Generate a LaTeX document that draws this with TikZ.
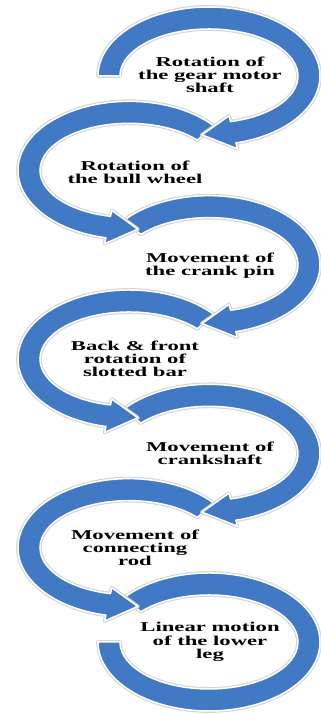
\documentclass[tikz,border=0pt]{standalone}
\usepackage{fontspec}
\setmainfont{Liberation Serif}
\usepackage{tikz}
\usetikzlibrary{calc}

\definecolor{ringblue}{RGB}{66,121,196}

\begin{document}
\begin{tikzpicture}[x=1pt,y=1pt]
    \newcommand{\ringstep}[0]{ 94.33pt }
    \tikzstyle{band} = [fill=ringblue,draw=white,line width=1.5pt,line join=round,
      preaction={draw=black!16,line width=3.8pt,line join=round}]
    \tikzstyle{steptext} = [
      align=center,
      inner sep=0pt,
      xscale=1.68,
      font=\fontsize{13.5}{13.3}\selectfont\bfseries,
    ]
    % ring: centre, start angle, end of band, tip of the head
    \newcommand{\ringarrow}[4]{%
      \filldraw[band] ([shift={(#2:111pt and 69pt)}]#1)
        arc[start angle=#2,end angle=#3,x radius=111pt,y radius=69pt]
        --([shift={(#3:117pt and 75pt)}]#1)
        --([shift={(#4:101pt and 59pt)}]#1)
        --([shift={(#3:83pt and 41pt)}]#1)
        --([shift={(#3:89pt and 47pt)}]#1)
        arc[start angle=#3,end angle=#2,x radius=89pt,y radius=47pt]
        -- cycle;}
    % last ring has no head
    \newcommand{\ringtail}[3]{%
      \filldraw[band] ([shift={(#2:111pt and 69pt)}]#1)
        arc[start angle=#2,end angle=#3,x radius=111pt,y radius=69pt]
        --([shift={(#3:89pt and 47pt)}]#1)
        arc[start angle=#3,end angle=#2,x radius=89pt,y radius=47pt]
        -- cycle;}

    \useasboundingbox (0,0) rectangle (321,715);

    % ring centres
    \coordinate (c1) at (209,639);
    \coordinate (c2) at ([xshift=-80pt,yshift=-\ringstep]c1);
    \coordinate (c3) at ([xshift= 80pt,yshift=-\ringstep]c2);
    \coordinate (c4) at ([xshift=-80pt,yshift=-\ringstep]c3);
    \coordinate (c5) at ([xshift= 80pt,yshift=-\ringstep]c4);
    \coordinate (c6) at ([xshift=-80pt,yshift=-\ringstep]c5);
    \coordinate (c7) at ([xshift= 80pt,yshift=-\ringstep]c6);

    % rings, last one first so every head lies on the next tail
    \ringtail{c7}{140}{-180}
    \ringarrow{c6}{40}{258}{275}
    \ringarrow{c5}{140}{-76}{-94}
    \ringarrow{c4}{40}{258}{275}
    \ringarrow{c3}{140}{-76}{-94}
    \ringarrow{c2}{40}{258}{275}
    \ringarrow{c1}{180}{-76}{-94}

    % texts
    \node[steptext] (shaft) at ([xshift=1pt,yshift=1pt]c1)
      {Rotation of\\the gear motor\\shaft};
    \node[steptext] (wheel) at ([xshift=6pt,yshift=-2pt]c2)
      {Rotation of\\the bull wheel};
    \node[steptext] (pin) at ([xshift=1pt,yshift=-1pt]c3)
      {Movement of\\the crank pin};
    \node[steptext] (bar) at ([xshift=6pt]c4)
      {Back \& front\\rotation of\\slotted bar};
    \node[steptext] (crank) at ([xshift=1pt]c5)
      {Movement of\\crankshaft};
    \node[steptext] (rod) at ([xshift=6pt]c6)
      {Movement of\\connecting\\rod};
    \node[steptext] (leg) at ([xshift=1pt]c7)
      {Linear motion\\of the lower\\leg};
\end{tikzpicture}
\end{document}
